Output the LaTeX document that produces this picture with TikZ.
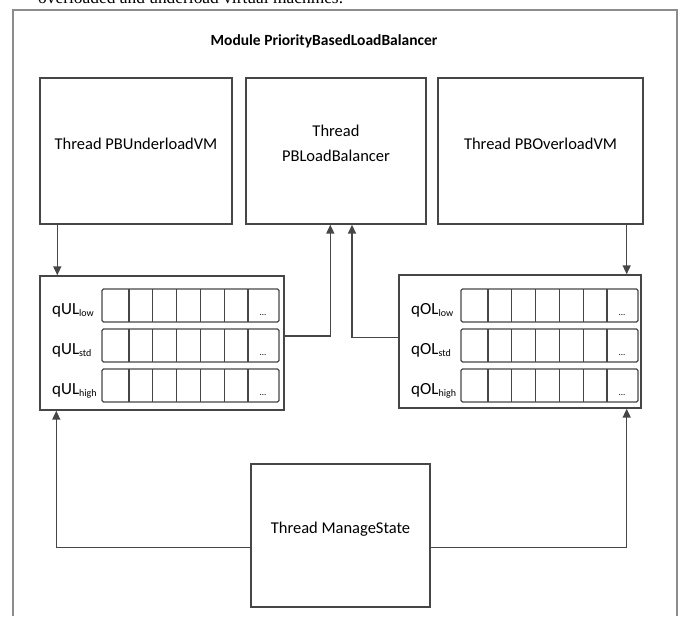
\documentclass[tikz,border=0pt]{standalone}
\usepackage{fontspec}
\setmainfont{Carlito}
\newfontfamily\captionserif{Liberation Serif}
\usetikzlibrary{arrows.meta,calc}
\definecolor{BoxGray}{RGB}{70, 70, 70}
\definecolor{FrameGray}{RGB}{140, 140, 140}
\newcommand{\qsub}[1]{\raisebox{-2pt}{\fontsize{10}{10}\selectfont #1}}

\begin{document}
\begin{tikzpicture}[x=1pt, y=-1pt,
  thread/.style={draw=BoxGray, line width=1.4pt, align=center, text depth=15pt, font=\fontsize{16.5}{20}\selectfont},
  holder/.style={draw=BoxGray, line width=1.4pt},
  qrow/.style={draw=BoxGray, line width=1.2pt, rounded corners=1.5pt},
  link/.style={draw=BoxGray, line width=1.5pt, -{Triangle[length=9pt, width=8pt]}},
  qlabel/.style={anchor=base west, inner sep=0pt, font=\fontsize{17}{20}\selectfont}
]
  \useasboundingbox (0,0) rectangle (680,616);

  % Caption cut off above the figure
  \node[anchor=base west, inner sep=0pt, font=\captionserif\fontsize{17.4}{20}\selectfont] (caption) at (38,3) {overloaded and underload virtual machines.};

  % Module frame
  \draw[FrameGray, line width=1.1pt] (13,616) -- (13,10) -- (677,10) -- (677,616);
  \node[font=\bfseries\fontsize{15.5}{18}\selectfont] (title) at (324,41) {Module PriorityBasedLoadBalancer};

  % Threads
  \node[thread, minimum width=192pt, minimum height=146pt] (ulvm) at (136,151) {Thread PBUnderloadVM};
  \node[thread, minimum width=180pt, minimum height=146pt] (lb) at (336,151) {Thread\\[5pt]PBLoadBalancer};
  \node[thread, minimum width=205pt, minimum height=146pt] (olvm) at (540.5,151) {Thread PBOverloadVM};
  \node[thread, minimum width=179pt, minimum height=143pt] (ms) at (340.5,535.5) {Thread ManageState};

  % Queue holders
  \node[holder, minimum width=244pt, minimum height=134pt] (ulq) at (162,343) {};
  \node[holder, minimum width=242pt, minimum height=133pt] (olq) at (520,341.5) {};

  \foreach \q/\qx/\qtag in {ul/102/qUL, ol/461/qOL} {
    \foreach \lab/\row in {low/0, std/1, high/2} {
      \pgfmathsetmacro{\ytop}{289 + 40*\row}
      % Slots
      \draw[qrow] (\qx, \ytop) rectangle (\qx + 177, \ytop + 33);
      \foreach \c in {0,...,5}
        \draw[qrow] (\qx + 27 + 23.8*\c, \ytop) -- (\qx + 27 + 23.8*\c, \ytop + 33);
      % Label
      \node[qlabel] (\q\lab) at (\qx - 50, \ytop + 25) {\qtag\qsub{\lab}};
      \node[font=\fontsize{9}{10}\selectfont, anchor=base, inner sep=0pt] (\q\lab dots) at (\qx + 161, \ytop + 26) {...};
    }
  }

  % Connectors
  \draw[link] ([xshift=18pt]ulvm.south west) -- ([xshift=18pt]ulq.north west);
  \draw[link] ([xshift=-17pt]olvm.south east) -- ([xshift=-15pt]olq.north east);
  \draw[link] ([yshift=7pt]ulq.east) -| ([xshift=85pt]lb.south west);
  \draw[link] ([yshift=4pt]olq.west) -| ([xshift=16pt]lb.south);
  \draw[link] ([yshift=-12pt]ms.west) -| ([xshift=17pt]ulq.south west);
  \draw[link] ([yshift=-12pt]ms.east) -| ([xshift=-15pt]olq.south east);
\end{tikzpicture}
\end{document}
